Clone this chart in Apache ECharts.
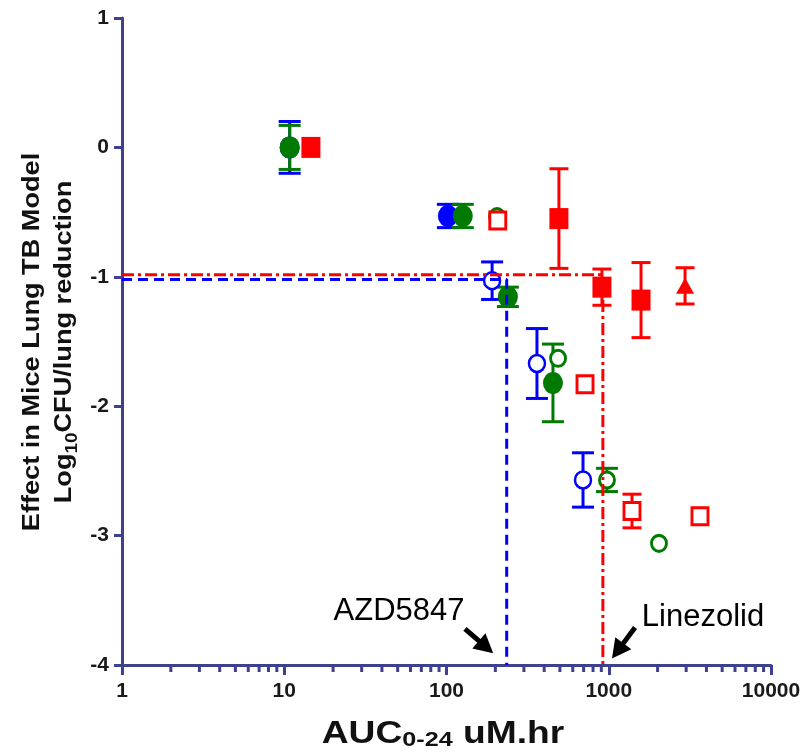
<!DOCTYPE html>
<html>
<head>
    <meta charset="utf-8">
    <title>AUC vs lung CFU reduction</title>
    <script src="https://cdn.jsdelivr.net/npm/echarts@6/dist/echarts.min.js"></script>
    <style>
        html, body { margin: 0; padding: 0; background: #fff; }
        #main { width: 806px; height: 755px; }
    </style>
</head>
<body>
<div id="main"></div>
<script>
    // [AUC, effect, error]
    var blueFilled = [[10.8, 0, 0.2], [102, -0.53, 0.09]];
    var blueOpen = [[191, -1.03, 0.145], [361, -1.67, 0.27], [694, -2.57, 0.21]];
    var greenFilled = [[10.8, 0, 0.17], [126, -0.53, 0.09], [239, -1.155, 0.075], [453, -1.82, 0.3]];
    var greenOpen = [[205, -0.535, 0], [487, -1.63, 0], [975, -2.57, 0.09], [2040, -3.06, 0]];
    var redFilled = [[14.6, 0, 0], [493, -0.55, 0.385], [908, -1.08, 0.14], [1581, -1.18, 0.29]];
    var redTriangle = [[2953, -1.07, 0.14]];
    var redOpen = [[207, -0.565, 0], [714, -1.83, 0], [1391, -2.81, 0.13], [3650, -2.85, 0]];

    // threshold guide lines
    var azdLine = [[1, -1.02], [235, -1.02], [235, -4]];
    var lzdLine = [[1, -0.985], [920, -0.985], [920, -4]];

    // annotations: text at [x, y], arrows as [x1, y1, x2, y2]
    var labelNames = ['AZD5847', 'Linezolid'];
    var labelPos = [[51, -3.59], [3810, -3.63]];
    var arrows = [[130, -3.72, 194, -3.91], [1452, -3.71, 1047, -3.95]];

    var minorTicks = [];
    [1, 10, 100, 1000].forEach(function (d) {
        for (var k = 2; k <= 9; k++) minorTicks.push([k * d, -4]);
    });

    var BLUE = '#0000ff', GREEN = '#007a00', RED = '#ff0000', AXIS = '#3f418f';
    var FONT = 'Liberation Sans, Arial, sans-serif';

    function errBars(color, capW) {
        return function (params, api) {
            var x = api.value(0), y = api.value(1), e = api.value(2);
            if (!e) return {type: 'group', children: []};
            var t = api.coord([x, y + e]), b = api.coord([x, y - e]), h = capW / 2;
            var st = {stroke: color, lineWidth: 3};
            return {
                type: 'group', children: [
                    {type: 'line', shape: {x1: t[0], y1: t[1], x2: b[0], y2: b[1]}, style: st},
                    {type: 'line', shape: {x1: t[0] - h, y1: t[1], x2: t[0] + h, y2: t[1]}, style: st},
                    {type: 'line', shape: {x1: b[0] - h, y1: b[1], x2: b[0] + h, y2: b[1]}, style: st}
                ]
            };
        };
    }

    function errSeries(data, color, capW) {
        return {type: 'custom', data: data, renderItem: errBars(color, capW), clip: false, silent: true};
    }

    function pts(data, symbol, size, fill, border, bw) {
        return {
            type: 'scatter', data: data, symbol: symbol, symbolSize: size, silent: true,
            itemStyle: {color: fill, borderColor: border, borderWidth: bw || 0, opacity: 1}
        };
    }

    var myChart = echarts.init(document.getElementById('main'));

    var option = {
        animation: false,
        grid: {left: 122, right: 35, top: 18, bottom: 90, containLabel: false},
        xAxis: {
            type: 'log', logBase: 10, min: 1, max: 10000,
            axisLine: {onZero: false, lineStyle: {color: AXIS, width: 3}},
            axisTick: {length: 10, lineStyle: {color: AXIS, width: 3}},
            splitLine: {show: false},
            axisLabel: {
                margin: 16, color: '#1a1a1a', fontSize: 21, fontWeight: 'bold', fontFamily: FONT,
                formatter: function (v) { return String(Math.round(v)); }
            }
        },
        yAxis: {
            type: 'value', min: -4, max: 1, interval: 1,
            axisLine: {show: true, onZero: false, lineStyle: {color: AXIS, width: 3}},
            axisTick: {show: true, length: 8, lineStyle: {color: AXIS, width: 3}},
            splitLine: {show: false},
            axisLabel: {margin: 13, color: '#1a1a1a', fontSize: 21, fontWeight: 'bold', fontFamily: FONT}
        },
        graphic: [
            {
                type: 'text', x: 49, y: 342, rotation: Math.PI / 2, scaleX: 1.18,
                style: {
                    text: '{t|Effect in Mice Lung TB Model}\n{t|Log}{s|10}{t|CFU/lung reduction}',
                    align: 'center', verticalAlign: 'middle', fill: '#111',
                    rich: {
                        t: {fontSize: 23, fontWeight: 'bold', fontFamily: FONT, lineHeight: 32, fill: '#111'},
                        s: {fontSize: 16, fontWeight: 'bold', fontFamily: FONT, lineHeight: 18, verticalAlign: 'bottom', fill: '#111'}
                    }
                }
            },
            {
                type: 'text', x: 443, y: 734, scaleX: 1.2,
                style: {
                    text: '{a|AUC}{s|0-24}{a| uM.hr}',
                    align: 'center', verticalAlign: 'middle', fill: '#111',
                    rich: {
                        a: {fontSize: 31, fontWeight: 'bold', fontFamily: FONT, lineHeight: 34, fill: '#111'},
                        s: {fontSize: 21, fontWeight: 'bold', fontFamily: FONT, lineHeight: 21, verticalAlign: 'bottom', fill: '#111'}
                    }
                }
            }
        ],
        series: [
            {
                type: 'custom', data: minorTicks, clip: false, silent: true,
                renderItem: function (params, api) {
                    var p = api.coord([api.value(0), api.value(1)]);
                    return {type: 'line', shape: {x1: p[0], y1: p[1], x2: p[0], y2: p[1] + 7}, style: {stroke: AXIS, lineWidth: 3}};
                }
            },
            {
                type: 'line', data: azdLine, symbol: 'none', silent: true,
                lineStyle: {color: BLUE, width: 3, type: [10, 6]}
            },
            {
                type: 'line', data: lzdLine, symbol: 'none', silent: true,
                lineStyle: {color: RED, width: 3, type: [12, 4, 3, 4]}
            },
            errSeries(blueFilled.concat(blueOpen), BLUE, 22),
            pts(blueFilled, 'circle', [20, 22], BLUE),
            pts(blueOpen, 'circle', [16, 17], '#fff', BLUE, 2.5),
            errSeries(greenFilled.concat(greenOpen), GREEN, 22),
            pts(greenFilled, 'circle', [20, 22], GREEN),
            pts(greenOpen, 'circle', [15, 16], '#fff', GREEN, 3),
            errSeries(redFilled.concat(redTriangle, redOpen), RED, 19),
            pts(redFilled, 'rect', [19, 21], RED),
            pts(redOpen, 'rect', [16, 17], '#fff', RED, 3),
            pts(redTriangle, 'triangle', [18, 16], RED),
            {
                type: 'custom', data: labelPos, clip: false, silent: true,
                renderItem: function (params, api) {
                    var p = api.coord([api.value(0), api.value(1)]);
                    return {
                        type: 'text', x: p[0], y: p[1],
                        style: {
                            text: labelNames[params.dataIndex], fill: '#000', fontSize: 31,
                            fontFamily: FONT, align: 'center', verticalAlign: 'middle'
                        }
                    };
                }
            },
            {
                type: 'custom', data: arrows, clip: false, silent: true,
                renderItem: function (params, api) {
                    var a = api.coord([api.value(0), api.value(1)]);
                    var b = api.coord([api.value(2), api.value(3)]);
                    var dx = b[0] - a[0], dy = b[1] - a[1], len = Math.sqrt(dx * dx + dy * dy);
                    var ux = dx / len, uy = dy / len, hl = 19, hw = 10;
                    var bx = b[0] - ux * hl, by = b[1] - uy * hl;
                    return {
                        type: 'group', children: [
                            {type: 'line', shape: {x1: a[0], y1: a[1], x2: bx + ux * 2, y2: by + uy * 2}, style: {stroke: '#000', lineWidth: 5}},
                            {
                                type: 'polygon',
                                shape: {points: [[b[0], b[1]], [bx - uy * hw, by + ux * hw], [bx + uy * hw, by - ux * hw]]},
                                style: {fill: '#000'}
                            }
                        ]
                    };
                }
            }
        ]
    };

    myChart.setOption(option);
</script>
</body>
</html>
